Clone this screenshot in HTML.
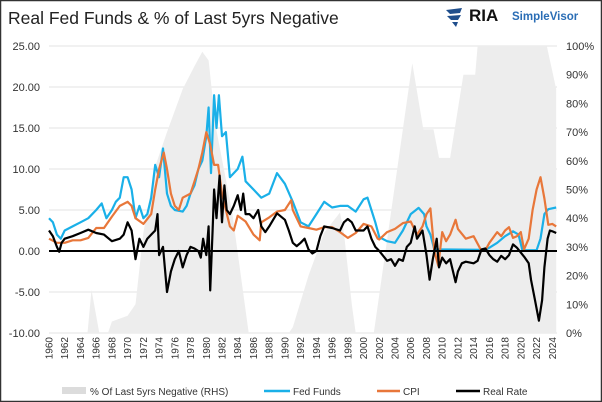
<!DOCTYPE html>
<html><head><meta charset="utf-8"><style>
body{margin:0;background:#fff;}
#wrap{position:relative;width:602px;height:402px;overflow:hidden;background:#fff;font-family:"Liberation Sans",sans-serif;}
svg text{font-family:"Liberation Sans",sans-serif;}
</style></head><body>
<div id="wrap">
<svg id="chart" width="602" height="402">
<rect x="0.5" y="0.5" width="601" height="401" fill="none" stroke="#333" stroke-width="1.5"/>
<text x="8" y="24" font-size="17.5" fill="#222">Real Fed Funds &amp; % of Last 5yrs Negative</text>
<g>
<path d="M446 10 L462 8 L460 13 L450 14 Z M447 16 L461 15 L458 20 L451 20 Z M452 22 L458 22 L456 27 Z" fill="#1f4e8c"/>
<text x="469" y="21" font-size="17" font-weight="bold" fill="#111">RIA</text>
<text x="512" y="20" font-size="11.5" font-weight="bold" fill="#2a6db5">SimpleVisor</text>
</g>
<g id="grid"></g><g id="area"></g><g id="lines"></g><g id="axes"></g>
<g>
<rect x="62" y="387" width="24" height="7" fill="#dcdcdc"/>
<text x="90" y="395" font-size="10" fill="#333">% Of Last 5yrs Negative (RHS)</text>
<line x1="264" y1="391" x2="290" y2="391" stroke="#1ab0e8" stroke-width="2.5"/>
<text x="293" y="395" font-size="10" fill="#333">Fed Funds</text>
<line x1="377" y1="391" x2="400" y2="391" stroke="#e8773a" stroke-width="2.5"/>
<text x="403" y="395" font-size="10" fill="#333">CPI</text>
<line x1="456" y1="391" x2="480" y2="391" stroke="#000" stroke-width="2.5"/>
<text x="483" y="395" font-size="10" fill="#333">Real Rate</text>
</g>
</svg>
</div>
<script>
const leftTicks=[25,20,15,10,5,0,-5,-10];
const rightTicks=[0,10,20,30,40,50,60,70,80,90,100];
const yearTicks=[1960,1962,1964,1966,1968,1970,1972,1974,1976,1978,1980,1982,1984,1986,1988,1990,1992,1994,1996,1998,2000,2002,2004,2006,2008,2010,2012,2014,2016,2018,2020,2022,2024];
const ffYears=[1960,1960.5,1961,1961.5,1962,1963,1964,1965,1966,1966.7,1967.3,1968,1968.5,1969,1969.5,1970,1970.5,1971,1971.5,1972,1972.5,1973,1973.5,1974,1974.5,1975,1975.5,1976,1977,1977.5,1978,1978.5,1979,1979.5,1980,1980.3,1980.6,1981,1981.3,1981.6,1982,1982.5,1983,1984,1984.6,1985,1986,1987,1988,1989,1990,1991,1992,1993,1994,1995,1996,1997,1998,1999,2000,2000.5,2001,2001.5,2002,2003,2004,2005,2006,2007,2007.7,2008,2008.5,2009,2015.5,2016,2017,2018,2019,2019.7,2020.2,2022,2022.5,2023,2023.5,2024.5];
const ffValues=[4.0,3.5,2.0,1.5,2.5,3.0,3.5,4.0,5.0,5.8,4.0,5.0,6.0,6.5,9.0,9.0,7.5,4.0,5.5,4.0,4.5,6.5,10.5,9.0,12.5,7.0,5.5,5.0,4.8,5.5,7.0,8.0,10.0,11.0,14,17.5,9.5,19,15,19,14,14.5,9,10,11.5,8.5,7.5,6.5,7,9.5,8.2,6,3.5,3,4.5,6,5.3,5.5,5.5,4.8,6.3,6.5,5,3.5,1.7,1.2,1.0,2.5,4.5,5.25,4.5,3,2,0.2,0.15,0.4,1.0,1.8,2.4,2.0,0.1,0.1,1.5,4.5,5.1,5.3];
const cpiYears=[1960,1961,1962,1963,1964,1965,1966,1967,1968,1969,1970,1970.5,1971,1972,1973,1973.5,1974,1974.6,1975,1975.5,1976,1976.5,1977,1978,1978.5,1979,1979.5,1980,1980.5,1981,1981.5,1982,1982.5,1983,1983.5,1984,1985,1986,1986.8,1987,1988,1989,1990,1990.8,1991,1992,1993,1994,1995,1996,1997,1998,1999,2000,2001,2001.8,2002,2003,2004,2005,2006,2006.8,2007.5,2008,2008.5,2009,2009.5,2010,2010.5,2011,2011.7,2012,2013,2014,2015,2015.5,2016,2017,2017.5,2018,2018.5,2019,2019.5,2020,2020.4,2021,2021.5,2022,2022.5,2023,2023.5,2024,2024.5];
const cpiValues=[1.5,1.0,1.0,1.3,1.3,1.6,2.8,2.8,4.2,5.5,6.0,5.5,4.0,3.3,4.5,7.5,10,12.0,10,7,5.5,5.0,6.5,7.0,8.5,10,12,14.5,13,10.5,10.5,7,5,3,2.5,4.3,3.6,2,1.3,3.5,4.1,4.8,5.0,6.2,5,3.0,2.8,2.6,2.9,2.9,2.3,1.6,2.2,3.3,3.0,1.5,1.4,2.3,2.7,3.4,3.6,2.0,3,4.5,5.2,0,-1.8,2.3,1.2,2.0,3.8,2.7,1.5,1.8,0,0.1,1.0,2.3,1.8,2.5,2.9,1.6,1.8,2.3,0.2,1.5,5.0,7.5,9.0,6.4,3.2,3.3,3.0];
const rrYears=[1960,1960.5,1961,1961.3,1961.6,1962,1963,1964,1965,1966,1967,1968,1969,1969.5,1970,1970.5,1971,1971.5,1972,1972.5,1973,1973.5,1973.8,1974,1974.5,1975,1975.5,1976,1976.5,1977,1977.5,1978,1978.5,1979,1979.3,1979.6,1980,1980.3,1980.5,1980.8,1981,1981.3,1981.7,1982,1982.3,1982.6,1983,1983.5,1984,1984.4,1984.7,1985,1985.5,1986,1986.6,1987,1987.5,1988,1989,1990,1990.5,1991,1991.5,1992,1992.5,1993,1993.5,1994,1994.5,1995,1996,1997,1997.5,1998,1998.5,1999,2000,2000.5,2001,2001.5,2002,2003,2003.5,2004,2004.5,2005,2005.5,2006,2006.5,2006.8,2007.5,2008,2008.4,2008.8,2009.3,2009.6,2010,2010.5,2011,2011.7,2012,2012.5,2013,2014,2014.5,2015,2015.5,2016,2016.5,2017,2017.5,2018,2018.5,2019,2019.5,2020,2020.5,2021,2021.3,2021.8,2022.3,2022.7,2023,2023.4,2023.7,2024,2024.5];
const rrValues=[2.5,1.8,0.5,-0.1,1,1.5,1.8,2.2,2.6,2.2,2.0,1.2,1.5,2.0,3.5,2.5,-1.0,1.5,0.5,1.5,2.0,2.5,4.5,-0.5,0.5,-5,-2.5,-1.0,0,-2.0,-0.5,0.5,0.3,0,-0.8,1.5,-0.5,3.0,-4.8,2.5,7.5,4,9.2,3.5,8,5,4.5,5.5,6.8,5,7,4.5,4.5,4,5.0,3.0,2.3,3,4.6,3.8,2.5,1,0.6,1.0,1.5,0.2,-0.3,0,1.8,3,2.8,2.5,3.5,3.9,3.5,2.5,2.5,3,1.5,0.5,0,-1.2,-1.0,-1.8,-1.0,-1.2,0.5,1.0,3.0,1.5,2.5,-0.5,-3.5,-1.0,1.5,-2,-0.8,-1.5,-1.0,-3.8,-2.5,-1.5,-1.3,-1.5,-1.2,0.2,0.3,-0.5,-1.0,-1.3,-0.6,-1.0,-0.5,0.8,0.4,-0.2,-0.8,-1.5,-3.5,-6.0,-8.5,-6,-2.0,1.5,2.5,2.4,2.2];
const pctYears=[1960,1964.9,1965.4,1966.4,1967.5,1968,1970,1971,1972,1973.5,1975,1977,1978.5,1979.5,1980.3,1981.2,1983.3,1985.4,1990.5,1991,1993,1995,1997,1997.5,1998.5,1999,2001.3,2006.2,2007.6,2008.9,2009.6,2011,2012.7,2014.2,2014.5,2023.3,2024.5];
const pctValues=[0,0,15,0,0,4,6,10,35,58,70,85,93,98,95,72,42,0,0,2,20,35,42,35,10,0,0,94,71,71,61,61,90,90,100,100,85];

const X0=49,X1=557,YT=46,YB=333;
function xs(yr){return X0+(yr-1960)*(X1-X0)/64.6;}
function yl(v){return YT+(25-v)*(YB-YT)/35;}
function yr(p){return YB-p*(YB-YT)/100;}
const NS='http://www.w3.org/2000/svg';
function mk(tag,attrs,parent){const e=document.createElementNS(NS,tag);for(const k in attrs)e.setAttribute(k,attrs[k]);parent.appendChild(e);return e;}
const grid=document.getElementById('grid'),area=document.getElementById('area'),lines=document.getElementById('lines'),axes=document.getElementById('axes');
leftTicks.forEach(v=>{
  if(v!==0){const g=mk('line',{x1:X0,x2:X1,y1:yl(v),y2:yl(v),stroke:'#e3e3e3','stroke-width':1},grid);
  
  }
  const t=mk('text',{x:40,y:yl(v)+4,'font-size':11,'text-anchor':'end',fill:'#333'},axes);
  t.textContent=v.toFixed(2);
  
  
});
rightTicks.forEach(p=>{
  const t=mk('text',{x:566,y:yr(p)+4,'font-size':11,fill:'#333'},axes);
  t.textContent=p+'%';
  
  
});
yearTicks.forEach(y=>{
  const x=xs(y);
  const t=mk('text',{x:0,y:0,'font-size':10,fill:'#333','text-anchor':'end',transform:`translate(${x+3.5},${YB+4}) rotate(-90)`},axes);
  t.textContent=y;
  
  
});
let d=`M${xs(pctYears[0])},${YB}`;
pctYears.forEach((y,i)=>{d+=` L${xs(y).toFixed(1)},${yr(pctValues[i]).toFixed(1)}`;});
d+=` L${xs(pctYears[pctYears.length-1])},${YB} Z`;
const a=mk('path',{d:d,fill:'#ededed'},area);


function line(ys,vs,color,name){
  const pts=ys.map((y,i)=>xs(y).toFixed(1)+','+yl(vs[i]).toFixed(1)).join(' ');
  const p=mk('polyline',{points:pts,fill:'none',stroke:color,'stroke-width':2.2,'stroke-linejoin':'round'},lines);
  
  
}
line(ffYears,ffValues,'#1ab0e8','fed-funds-line');
line(cpiYears,cpiValues,'#e8773a','cpi-line');
const z=mk('line',{x1:X0,x2:X1,y1:yl(0),y2:yl(0),stroke:'#000','stroke-width':2},lines);


line(rrYears,rrValues,'#000','real-rate-line');
</script>
</body></html>
